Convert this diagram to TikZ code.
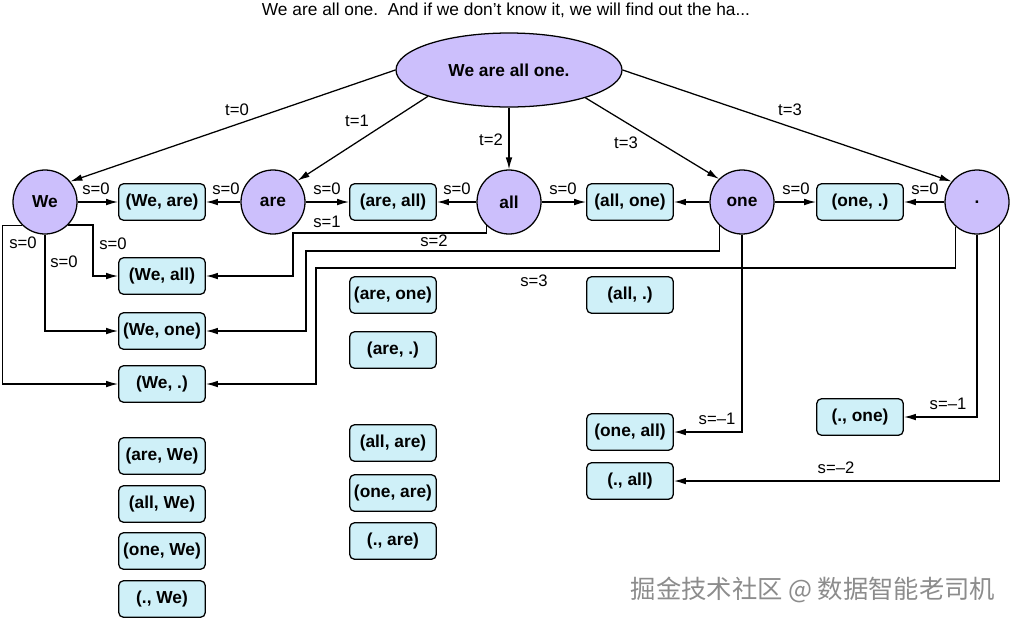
\documentclass[tikz,border=0pt]{standalone}
\usepackage{fontspec}
\setmainfont{Liberation Sans}
\newfontfamily\cjk{Noto Sans CJK SC}
\usetikzlibrary{arrows.meta,shapes.geometric}
\definecolor{wordfill}{RGB}{204,191,252}
\definecolor{pairfill}{RGB}{207,240,248}
\begin{document}
\begin{tikzpicture}[x = .75pt, y = -.75pt, line width = .95pt,
    >= {Latex[length = 9pt, width = 5pt]},
    word/.style = {circle, draw, fill = wordfill, minimum size = 48pt,
                   inner sep = 0pt, font = \bfseries\fontsize{13}{15}\selectfont},
    pair/.style = {rectangle, draw, rounded corners = 3.75pt, fill = pairfill,
                   minimum width = 65pt, minimum height = 27.5pt, inner sep = 0pt,
                   font = \bfseries\fontsize{13}{15}\selectfont},
    lbl/.style = {inner sep = 0pt, font = \fontsize{12.5}{15}\selectfont}]
      \useasboundingbox (0,0) rectangle (1012,622);
      \node [inner sep = 0pt, font = \fontsize{13}{15}\selectfont] (title)
        at (506,10) {We are all one.\ \ And if we don't know it, we will find out the ha...};
      \node [ellipse, draw, fill = wordfill, minimum width = 169.5pt,
             minimum height = 55.5pt, font = \bfseries\fontsize{13}{15}\selectfont]
        (sent) at (509,70) {We are all one.};
      \node [word] (we)  at (45,202)  {We};
      \node [word] (are) at (273,202) {are};
      \node [word] (all) at (509,202) {all};
      \node [word] (one) at (742,202) {one};
      \node [word] (dot) at (977,202) {.};
      \node [pair] (weare)  at (162,202) {(We, are)};
      \node [pair] (weall)  at (162,276) {(We, all)};
      \node [pair] (weone)  at (162,331) {(We, one)};
      \node [pair] (wedot)  at (162,384) {(We, .)};
      \node [pair] (arewe)  at (162,456) {(are, We)};
      \node [pair] (allwe)  at (162,504) {(all, We)};
      \node [pair] (onewe)  at (162,551) {(one, We)};
      \node [pair] (dotwe)  at (162,599) {(., We)};
      \node [pair] (areall) at (393,202) {(are, all)};
      \node [pair] (areone) at (393,295) {(are, one)};
      \node [pair] (aredot) at (393,350) {(are, .)};
      \node [pair] (allare) at (393,443) {(all, are)};
      \node [pair] (oneare) at (393,493) {(one, are)};
      \node [pair] (dotare) at (393,541) {(., are)};
      \node [pair] (allone) at (630,202) {(all, one)};
      \node [pair] (alldot) at (630,295) {(all, .)};
      \node [pair] (oneall) at (630,432) {(one, all)};
      \node [pair] (dotall) at (630,481) {(., all)};
      \node [pair] (onedot) at (860,202) {(one, .)};
      \node [pair] (dotone) at (860,417) {(., one)};
      \draw [->] (sent.west) -- (we.39);
      \draw [->] (sent.198) -- (are.41);
      \draw [->] (sent.south) -- (all.north);
      \draw [->] (sent.340) -- (one.135);
      \draw [->] (sent.east) -- (dot.141);
      \node [lbl] (t0) at (237,110) {t=0};
      \node [lbl] (t1) at (357,121) {t=1};
      \node [lbl] (t2) at (491,140) {t=2};
      \node [lbl] (t3a) at (626,143) {t=3};
      \node [lbl] (t3b) at (790,110) {t=3};
      \draw [->] (we) -- (weare);
      \draw [->] (are) -- (weare);
      \draw [->] (are) -- (areall);
      \draw [->] (all) -- (areall);
      \draw [->] (all) -- (allone);
      \draw [->] (one) -- (allone);
      \draw [->] (one) -- (onedot);
      \draw [->] (dot) -- (onedot);
      \node [lbl] (s0a) at (96,189)  {s=0};
      \node [lbl] (s0b) at (226,189) {s=0};
      \node [lbl] (s0c) at (327,189) {s=0};
      \node [lbl] (s0d) at (457,189) {s=0};
      \node [lbl] (s0e) at (563,189) {s=0};
      \node [lbl] (s0f) at (796,189) {s=0};
      \node [lbl] (s0g) at (925,189) {s=0};
      \draw [->] (we.-45) -- ++(25,0) |- (weall);
      \draw [->] (we.south) |- (weone);
      \draw [->] (we.226) -- ++(-20,0) |- (wedot);
      \node [lbl] (s0h) at (113,244) {s=0};
      \node [lbl] (s0i) at (64,262)  {s=0};
      \node [lbl] (s0j) at (23,243)  {s=0};
      \draw [->] (all.226) |- (293,233) |- (weall);
      \draw [->] (one.226) |- (306,251) |- (weone);
      \draw [->] (dot.229) |- (316,268) |- (wedot);
      \node [lbl] (s1) at (327,222) {s=1};
      \node [lbl] (s2) at (434,241) {s=2};
      \node [lbl] (s3) at (534,281) {s=3};
      \draw [->] (one.south) |- (oneall);
      \draw [->] (dot.south) |- (dotone);
      \draw [->] (dot.-46) |- (dotall);
      \node [lbl] (sm1a) at (717,419) {s=--1};
      \node [lbl] (sm1b) at (948,404) {s=--1};
      \node [lbl] (sm2)  at (836,468) {s=--2};
      \node [inner sep = 0pt, text = black!45, font = \cjk\fontsize{19}{22}\selectfont]
        (mark) at (813,590) {掘金技术社区 @ 数据智能老司机};
    \end{tikzpicture}
\end{document}
